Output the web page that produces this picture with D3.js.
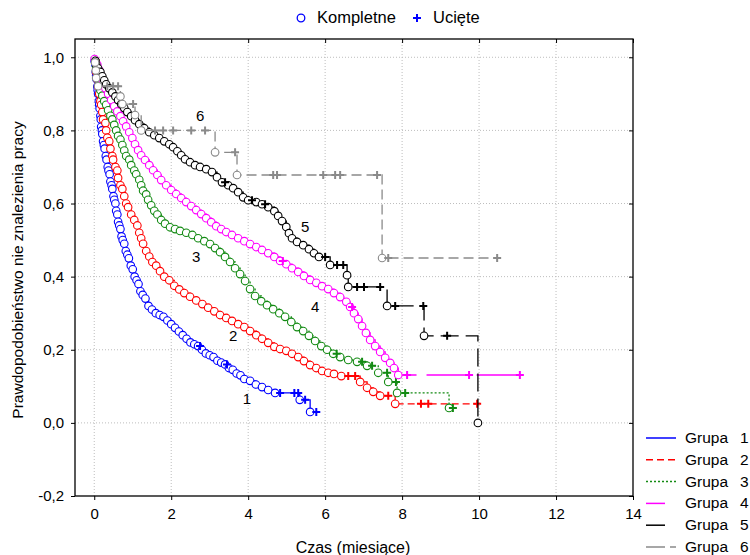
<!DOCTYPE html>
<html>
<head>
<meta charset="utf-8">
<script src="https://cdn.jsdelivr.net/npm/d3@7.9.0/dist/d3.min.js"></script>
<style>
  body { margin: 0; background: #fff; }
  svg { font-family: "Liberation Sans", Arial, sans-serif; }
</style>
</head>
<body>
<div id="chart"></div>
<script>
// ===============================
// DATA (Kaplan-Meier)
// events = [czas, S(t)] (kompletne), censored = czas (ucięte)
// ===============================
const groupNames = ["Grupa  1", "Grupa  2", "Grupa  3", "Grupa  4", "Grupa  5", "Grupa  6"];
const xTicks = [0, 2, 4, 6, 8, 10, 12, 14];
const yTicks = [-0.2, 0, 0.2, 0.4, 0.6, 0.8, 1.0];

const events1 = [[0.01,.99],[0.03,.98],[0.04,.96],[0.05,.95],[0.06,.94],[0.08,.92],[0.09,.91],[0.10,.90],
  [0.12,.88],[0.13,.87],[0.14,.86],[0.16,.84],[0.17,.83],[0.18,.81],[0.20,.80],[0.21,.79],[0.23,.77],
  [0.25,.76],[0.27,.75],[0.30,.73],[0.32,.72],[0.35,.70],[0.37,.69],[0.40,.68],[0.42,.66],[0.45,.65],
  [0.47,.64],[0.50,.62],[0.52,.61],[0.55,.60],[0.57,.58],[0.60,.57],[0.62,.55],[0.65,.54],[0.68,.53],
  [0.71,.51],[0.74,.50],[0.78,.49],[0.82,.47],[0.86,.46],[0.90,.45],[0.95,.43],[1.00,.42],[1.05,.40],
  [1.10,.39],[1.15,.38],[1.20,.36],[1.26,.35],[1.33,.34],[1.41,.32],[1.50,.31],[1.60,.30],[1.70,.295],
  [1.80,.29],[1.90,.28],[2.00,.27],[2.10,.26],[2.20,.25],[2.30,.24],[2.40,.23],[2.50,.22],[2.60,.215],
  [2.70,.21],[2.80,.20],[2.90,.19],[3.00,.185],[3.10,.18],[3.20,.17],[3.30,.165],[3.40,.16],[3.50,.15],
  [3.60,.145],[3.70,.135],[3.80,.13],[3.90,.12],[4.05,.115],[4.20,.105],[4.36,.098],[4.52,.09],
  [4.70,.082],[5.34,.063],[5.61,.03]];
const censored1 = [2.75, 3.45, 4.83, 5.20, 5.30, 5.48, 5.77];

const events2 = [[0.03,.99],[0.05,.96],[0.08,.94],[0.10,.92],[0.13,.90],[0.16,.88],[0.18,.87],[0.21,.85],
  [0.23,.83],[0.29,.82],[0.31,.80],[0.34,.78],[0.39,.77],[0.42,.75],[0.47,.73],[0.49,.72],[0.55,.70],
  [0.60,.69],[0.62,.67],[0.68,.65],[0.73,.64],[0.78,.62],[0.83,.60],[0.88,.59],[0.96,.57],[1.04,.555],
  [1.12,.54],[1.17,.52],[1.22,.505],[1.27,.49],[1.35,.47],[1.43,.455],[1.51,.44],[1.61,.43],[1.71,.415],
  [1.82,.40],[1.95,.39],[2.08,.375],[2.21,.365],[2.34,.355],[2.49,.345],[2.65,.335],[2.81,.325],
  [2.96,.315],[3.12,.305],[3.27,.295],[3.43,.287],[3.58,.279],[3.74,.27],[3.90,.262],[4.05,.251],
  [4.21,.24],[4.36,.23],[4.52,.219],[4.68,.208],[4.83,.202],[4.99,.197],[5.14,.189],[5.30,.18],
  [5.45,.169],[5.61,.158],[5.77,.15],[5.92,.142],[6.08,.137],[6.23,.134],[6.42,.128],[6.91,.112],
  [7.09,.096],[7.25,.085],[7.43,.074],[7.82,.052]];
const censored2 = [6.60, 6.78, 7.64, 8.49, 8.68, 9.95];

const events3 = [[0.03,.99],[0.05,.975],[0.08,.96],[0.10,.94],[0.13,.925],[0.16,.91],[0.21,.895],[0.26,.88],
  [0.31,.87],[0.36,.855],[0.42,.84],[0.47,.83],[0.52,.815],[0.57,.80],[0.62,.785],[0.68,.775],[0.73,.76],
  [0.78,.745],[0.83,.73],[0.91,.72],[0.96,.705],[1.04,.69],[1.09,.68],[1.17,.665],[1.22,.65],[1.27,.635],
  [1.35,.625],[1.40,.61],[1.48,.595],[1.56,.58],[1.64,.57],[1.74,.555],[1.84,.545],[1.97,.535],[2.10,.53],
  [2.23,.525],[2.39,.52],[2.55,.514],[2.70,.505],[2.86,.497],[3.01,.489],[3.14,.478],[3.27,.467],
  [3.40,.454],[3.53,.44],[3.66,.423],[3.79,.407],[3.92,.388],[4.05,.366],[4.18,.347],[4.34,.333],
  [4.49,.322],[4.65,.311],[4.81,.30],[4.96,.29],[5.12,.276],[5.27,.262],[5.43,.251],[5.58,.238],
  [5.74,.224],[5.90,.21],[6.05,.20],[6.21,.189],[6.39,.18],[6.60,.172],[6.83,.167],[7.09,.156],
  [7.38,.137],[7.64,.112],[7.87,.082],[9.22,.041]];
const censored3 = [6.30, 6.96, 7.22, 7.61, 7.84, 8.08, 9.32];

const events4 = [[0.01,.995],[0.08,.98],[0.13,.965],[0.18,.95],[0.23,.93],[0.29,.915],[0.36,.90],[0.44,.883],
  [0.52,.866],[0.60,.852],[0.68,.839],[0.75,.825],[0.83,.811],[0.91,.795],[0.99,.779],[1.06,.762],
  [1.14,.746],[1.22,.732],[1.32,.719],[1.43,.705],[1.53,.691],[1.64,.678],[1.74,.664],[1.87,.65],
  [2.00,.637],[2.13,.626],[2.26,.615],[2.39,.604],[2.52,.593],[2.65,.582],[2.78,.571],[2.91,.56],
  [3.04,.549],[3.17,.538],[3.30,.53],[3.43,.522],[3.58,.514],[3.74,.505],[3.90,.497],[4.05,.489],
  [4.21,.481],[4.36,.473],[4.52,.464],[4.68,.454],[4.83,.443],[4.99,.434],[5.14,.423],[5.30,.413],
  [5.45,.402],[5.61,.391],[5.77,.383],[5.92,.374],[6.08,.366],[6.23,.355],[6.39,.344],[6.55,.331],
  [6.65,.317],[6.75,.30],[6.86,.284],[6.96,.265],[7.06,.246],[7.17,.227],[7.30,.21],[7.43,.194],
  [7.56,.178],[7.69,.164],[7.79,.15],[7.90,.131]];
const censored4 = [4.90, 6.70, 8.13, 9.74, 11.06];

const events5 = [[0.03,.99],[0.05,.98],[0.10,.97],[0.16,.96],[0.21,.948],[0.26,.937],[0.31,.926],[0.39,.915],
  [0.47,.904],[0.55,.893],[0.62,.883],[0.70,.872],[0.78,.861],[0.86,.85],[0.96,.839],[1.06,.828],
  [1.17,.817],[1.30,.806],[1.43,.795],[1.56,.787],[1.69,.779],[1.82,.77],[1.95,.762],[2.05,.754],
  [2.16,.743],[2.26,.732],[2.36,.721],[2.49,.713],[2.62,.705],[2.75,.70],[2.91,.694],[3.06,.686],
  [3.19,.672],[3.32,.658],[3.48,.65],[3.61,.642],[3.74,.631],[3.87,.617],[4.00,.609],[4.21,.604],
  [4.36,.598],[4.52,.59],[4.68,.579],[4.78,.566],[4.88,.552],[4.99,.536],[5.06,.519],[5.14,.505],
  [5.27,.495],[5.43,.486],[5.58,.475],[5.71,.464],[5.84,.454],[6.13,.432],[6.57,.404],[6.60,.372],
  [7.61,.32],[8.57,.238],[9.97,0]];
const censored5 = [3.40, 4.10, 4.44, 6.00, 6.31, 6.47, 6.83, 7.01, 7.43, 7.82, 8.55, 9.17];

const events6 = [[0.02,.986],[0.04,.964],[0.05,.943],[0.10,.921],[0.68,.893],[0.73,.872],[1.06,.842],
  [1.22,.80],[3.14,.74],[3.71,.678],[7.48,.451]];
const censored6 = [0.34, 0.49, 0.62, 1.01, 1.58, 1.79, 2.05, 2.52, 2.88, 3.66, 4.65, 4.75, 5.95, 6.26,
  6.39, 7.35, 7.64, 10.47];

// curve number labels [czas, S]
const curveLabels = [[3.97, .068, "1"], [3.61, .24, "2"], [2.65, .454, "3"], [5.74, .317, "4"],
  [5.48, .538, "5"], [2.75, .842, "6"]];

// ===============================
// STYLES
// ===============================
const colors = ["#0000ff", "#ff0000", "#138a13", "#ff00ff", "#000000", "#8a8a8a"];
const dashes = [null, "7,4", "2,2", "40,10", "18,7", "10,5"];
const legendDashes = [null, "7,4", "2,2", "19,20", "19,20", "19,5"];

const groups = [
  [events1, censored1], [events2, censored2], [events3, censored3],
  [events4, censored4], [events5, censored5], [events6, censored6]
].map(([events, censored], i) => ({
  events, censored, color: colors[i], dash: dashes[i], legendDash: legendDashes[i], name: groupNames[i]
}));

// ===============================
// SETUP
// ===============================
const width = 750, height = 555;
const plot = { left: 75, right: 633, top: 39, bottom: 496 };

const svg = d3.select("#chart").append("svg")
  .attr("width", width).attr("height", height);

const x = d3.scaleLinear().domain([-0.5, 14]).range([plot.left, plot.right]);
const y = d3.scaleLinear().domain([-0.2, 1.05]).range([plot.bottom, plot.top]);
const fmt = d => d.toFixed(1).replace(".", ",");

// grid
svg.append("g").selectAll("line").data(xTicks.filter(d => d < 14)).join("line")
  .attr("x1", d => x(d)).attr("x2", d => x(d))
  .attr("y1", plot.top).attr("y2", plot.bottom)
  .attr("stroke", "#bdbdbd").attr("stroke-dasharray", "1,2");
svg.append("g").selectAll("line").data(yTicks.filter(d => d > -0.2)).join("line")
  .attr("x1", plot.left).attr("x2", plot.right)
  .attr("y1", d => y(d)).attr("y2", d => y(d))
  .attr("stroke", "#bdbdbd").attr("stroke-dasharray", "1,2");

// axes
const styleAxis = g => {
  g.select(".domain").remove();
  g.selectAll("line").attr("stroke", "#000");
  g.selectAll("text").attr("fill", "#000").style("font-size", "15px");
};
svg.append("g").attr("transform", `translate(0,${plot.bottom})`)
  .call(d3.axisBottom(x).tickValues(xTicks).tickSize(4).tickPadding(8)).call(styleAxis);
svg.append("g").attr("transform", `translate(${plot.left},0)`)
  .call(d3.axisLeft(y).tickValues(yTicks).tickFormat(fmt).tickSize(4).tickPadding(7)).call(styleAxis);
svg.append("g").attr("transform", `translate(0,${plot.top})`)
  .call(d3.axisTop(x).tickValues(xTicks).tickFormat("").tickSize(-4)).call(styleAxis);
svg.append("g").attr("transform", `translate(${plot.right},0)`)
  .call(d3.axisRight(y).tickValues(yTicks).tickFormat("").tickSize(-4)).call(styleAxis);

svg.append("rect")
  .attr("x", plot.left).attr("y", plot.top)
  .attr("width", plot.right - plot.left).attr("height", plot.bottom - plot.top)
  .attr("fill", "none").attr("stroke", "#000").attr("stroke-width", 1.3);

// ===============================
// CURVES
// ===============================
const stepLine = d3.line().x(d => x(d[0])).y(d => y(d[1])).curve(d3.curveStepAfter);
const survivalAt = (events, t) => {
  let s = 1;
  for (const [et, es] of events) if (et <= t) s = es;
  return s;
};

groups.forEach(g => {
  const tEnd = Math.max(d3.max(g.events, d => d[0]), d3.max(g.censored));
  const last = g.events[g.events.length - 1][1];
  const pts = [[0, 1], ...g.events, [tEnd, last]];
  const layer = svg.append("g");

  layer.append("path")
    .attr("d", stepLine(pts))
    .attr("fill", "none")
    .attr("stroke", g.color)
    .attr("stroke-width", 1.3)
    .attr("stroke-dasharray", g.dash);

  layer.selectAll("circle").data(g.events).join("circle")
    .attr("cx", d => x(d[0])).attr("cy", d => y(d[1]))
    .attr("r", 3.8)
    .attr("fill", "#fff")
    .attr("stroke", g.color)
    .attr("stroke-width", 1.1);

  layer.selectAll("path.cens").data(g.censored).join("path")
    .attr("class", "cens")
    .attr("d", t => {
      const cx = x(t), cy = y(survivalAt(g.events, t));
      return `M${cx - 4},${cy}H${cx + 4}M${cx},${cy - 4}V${cy + 4}`;
    })
    .attr("stroke", g.color)
    .attr("stroke-width", 2);
});

// curve number labels
svg.append("g").selectAll("text").data(curveLabels).join("text")
  .attr("x", d => x(d[0])).attr("y", d => y(d[1]))
  .attr("text-anchor", "middle").attr("dominant-baseline", "central")
  .style("font-size", "15px")
  .text(d => d[2]);

// ===============================
// LEGENDS
// ===============================
const markerLegend = svg.append("g");
markerLegend.append("circle").attr("cx", 301).attr("cy", 18).attr("r", 3.8)
  .attr("fill", "#fff").attr("stroke", "#0000ff").attr("stroke-width", 1.3);
markerLegend.append("text").attr("x", 317).attr("y", 23).style("font-size", "16.5px").text("Kompletne");
markerLegend.append("path").attr("d", "M413,18H421M417,14V22").attr("stroke", "#0000ff").attr("stroke-width", 2);
markerLegend.append("text").attr("x", 433).attr("y", 23).style("font-size", "16.5px").text("Ucięte");

const groupLegend = svg.append("g").selectAll("g").data(groups).join("g")
  .attr("transform", (d, i) => `translate(0,${438 + i * 21.8})`);
groupLegend.append("line")
  .attr("x1", 646).attr("x2", 676)
  .attr("stroke", d => d.color).attr("stroke-width", 1.5)
  .attr("stroke-dasharray", d => d.legendDash);
groupLegend.append("text").attr("x", 685).attr("y", 5).style("font-size", "15.5px")
  .text(d => d.name.split(" ")[0]);
groupLegend.append("text").attr("x", 740).attr("y", 5).style("font-size", "15.5px")
  .text(d => d.name.trim().split(" ").pop());

// axis titles
svg.append("text").attr("x", 353).attr("y", 553).attr("text-anchor", "middle")
  .style("font-size", "16px").text("Czas (miesiące)");
svg.append("text").attr("transform", "translate(23,270) rotate(-90)").attr("text-anchor", "middle")
  .style("font-size", "15.5px").text("Prawdopodobieństwo nie znalezienia pracy");
</script>
</body>
</html>
